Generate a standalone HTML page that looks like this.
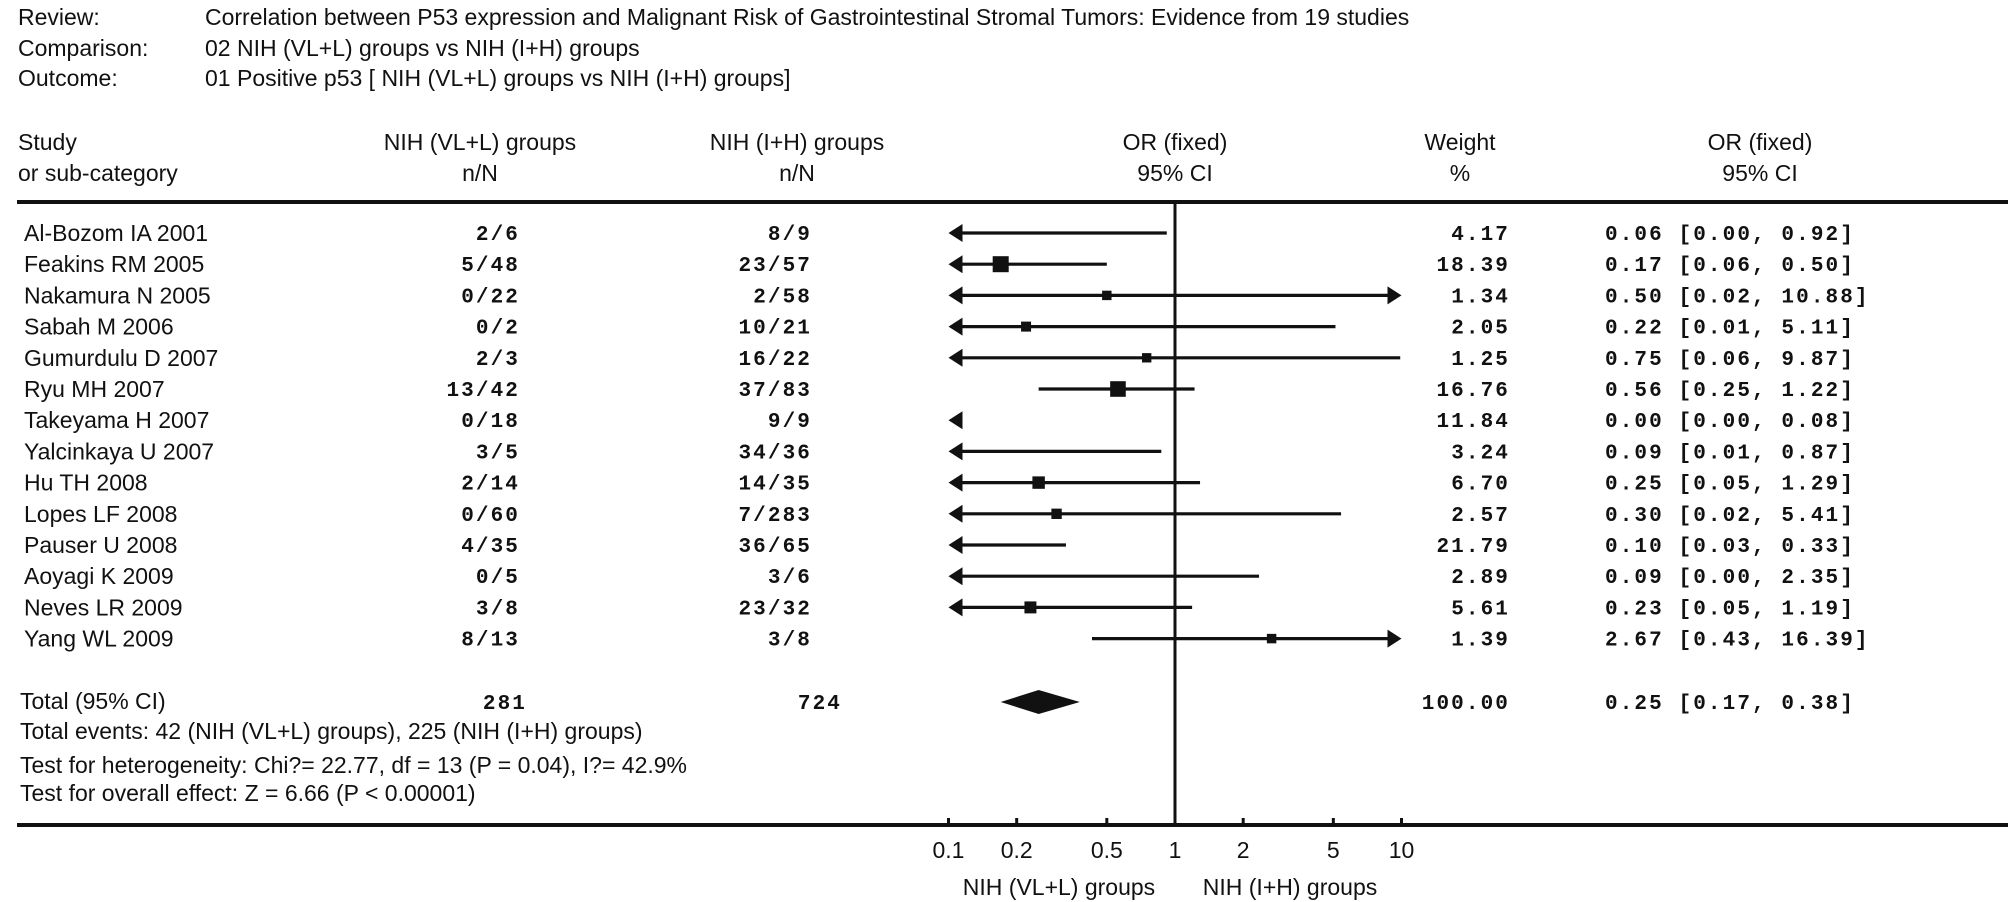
<!DOCTYPE html>
<html><head><meta charset="utf-8">
<style>
html,body{margin:0;padding:0;background:#fff;}
svg{display:block;}
.s{font-family:"Liberation Sans",Arial,sans-serif;font-size:23px;fill:#111;}
.m{font-family:"Liberation Mono","Courier New",monospace;font-size:21px;letter-spacing:2.1px;fill:#111;font-weight:bold;}
</style></head>
<body>
<svg id="c" width="2008" height="902" viewBox="0 0 2008 902" xmlns="http://www.w3.org/2000/svg">
<g>
<text class="s" x="18" y="25">Review:</text>
<text class="s" x="205" y="25">Correlation between P53 expression and Malignant Risk of Gastrointestinal Stromal Tumors: Evidence from 19 studies</text>
<text class="s" x="18" y="56">Comparison:</text>
<text class="s" x="205" y="56">02 NIH (VL+L)  groups vs NIH (I+H)  groups</text>
<text class="s" x="18" y="86">Outcome:</text>
<text class="s" x="205" y="86">01 Positive p53 [ NIH (VL+L) groups vs NIH (I+H)  groups]</text>
</g>
<g>
<text class="s" x="18" y="150">Study</text>
<text class="s" x="18" y="181">or sub-category</text>
<text class="s" x="480" y="150" text-anchor="middle">NIH (VL+L) groups</text>
<text class="s" x="480" y="181" text-anchor="middle">n/N</text>
<text class="s" x="797" y="150" text-anchor="middle">NIH (I+H)  groups</text>
<text class="s" x="797" y="181" text-anchor="middle">n/N</text>
<text class="s" x="1175" y="150" text-anchor="middle">OR (fixed)</text>
<text class="s" x="1175" y="181" text-anchor="middle">95% CI</text>
<text class="s" x="1460" y="150" text-anchor="middle">Weight</text>
<text class="s" x="1460" y="181" text-anchor="middle">%</text>
<text class="s" x="1760" y="150" text-anchor="middle">OR (fixed)</text>
<text class="s" x="1760" y="181" text-anchor="middle">95% CI</text>
</g>
<rect x="17" y="200" width="1991" height="4" fill="#111"/>
<rect x="17" y="823" width="1991" height="4" fill="#111"/>
<rect x="1173.5" y="202" width="3" height="623" fill="#111"/>
<g id="rows"></g>
<g id="axis"></g>
<g>
<text class="s" x="20" y="709">Total (95% CI)</text>
<text class="s" x="20" y="739">Total events: 42 (NIH (VL+L) groups), 225 (NIH (I+H)  groups)</text>
<text class="s" x="20" y="773">Test for heterogeneity: Chi?= 22.77, df = 13 (P = 0.04), I?= 42.9%</text>
<text class="s" x="20" y="801">Test for overall effect: Z = 6.66 (P &lt; 0.00001)</text>
</g>
<text class="s" x="1059" y="895" text-anchor="middle">NIH (VL+L) groups</text>
<text class="s" x="1290" y="895" text-anchor="middle">NIH (I+H)  groups</text>
</svg>
<script>
const studies = ["Al-Bozom IA 2001","Feakins RM 2005","Nakamura N 2005","Sabah M 2006","Gumurdulu D 2007","Ryu MH 2007","Takeyama H 2007","Yalcinkaya U 2007","Hu TH 2008","Lopes LF 2008","Pauser U 2008","Aoyagi K 2009","Neves LR 2009","Yang WL 2009"];
const group1 = ["2/6","5/48","0/22","0/2","2/3","13/42","0/18","3/5","2/14","0/60","4/35","0/5","3/8","8/13"];
const group2 = ["8/9","23/57","2/58","10/21","16/22","37/83","9/9","34/36","14/35","7/283","36/65","3/6","23/32","3/8"];
const orValues = [0.06,0.17,0.50,0.22,0.75,0.56,0.00,0.09,0.25,0.30,0.10,0.09,0.23,2.67];
const ciLow = [0.00,0.06,0.02,0.01,0.06,0.25,0.00,0.01,0.05,0.02,0.03,0.00,0.05,0.43];
const ciHigh = [0.92,0.50,10.88,5.11,9.87,1.22,0.08,0.87,1.29,5.41,0.33,2.35,1.19,16.39];
const weights = [4.17,18.39,1.34,2.05,1.25,16.76,11.84,3.24,6.70,2.57,21.79,2.89,5.61,1.39];
const totalOR = 0.25, totalLow = 0.17, totalHigh = 0.38;
const totalG1 = "281", totalG2 = "724", totalWeight = "100.00";
const tickValues = [0.1,0.2,0.5,1,2,5,10];
const tickLabels = ["0.1","0.2","0.5","1","2","5","10"];

const NS = "http://www.w3.org/2000/svg";
const xMin = 0.1, xMax = 10;
function xScale(v){ return 1175 + 226.5*Math.log10(v); }
function yRow(i){ return 233 + i*31.2; }
function mk(tag, attrs, parent){
  const e = document.createElementNS(NS, tag);
  for (const k in attrs) e.setAttribute(k, attrs[k]);
  parent.appendChild(e);
  return e;
}
function txt(parent, cls, x, y, s, anchor){
  const t = mk("text", {class: cls, x: x, y: y, "text-anchor": anchor || "start"}, parent);
  t.textContent = s;
  return t;
}
const f2 = v => v.toFixed(2);
const rowsG = document.getElementById("rows");

studies.forEach((name, i) => {
  const y = yRow(i);
  const g = mk("g", {}, rowsG);
  
  
  txt(g, "s", 24, y + 8, name);
  txt(g, "m", 520, y + 7, group1[i], "end");
  txt(g, "m", 812, y + 7, group2[i], "end");
  txt(g, "m", 1510, y + 7, f2(weights[i]), "end");
  txt(g, "m", 1605, y + 7, f2(orValues[i]) + " [" + f2(ciLow[i]) + ", " + f2(ciHigh[i]) + "]");
  const lo = Math.max(ciLow[i], xMin), hi = Math.min(ciHigh[i], xMax);
  const leftClip = ciLow[i] < xMin, rightClip = ciHigh[i] > xMax;
  const x1 = xScale(lo) + (leftClip ? 6 : 0);
  const x2 = ciHigh[i] < xMin ? xScale(xMin) + 6 : xScale(hi) - (rightClip ? 6 : 0);
  if (x2 > x1) {
    const ln = mk("line", {x1: x1, x2: x2, y1: y, y2: y, stroke: "#111", "stroke-width": 3.2}, g);
    
    
  }
  if (leftClip) {
    const ax = xScale(xMin);
    const a = mk("polygon", {points: ax + "," + y + " " + (ax + 14) + "," + (y - 9) + " " + (ax + 14) + "," + (y + 9), fill: "#111"}, g);
    
    
  }
  if (rightClip) {
    const ax = xScale(xMax);
    const a = mk("polygon", {points: ax + "," + y + " " + (ax - 14) + "," + (y - 9) + " " + (ax - 14) + "," + (y + 9), fill: "#111"}, g);
    
    
  }
  if (orValues[i] > xMin && orValues[i] < xMax) {
    const s = 7 + 2.1*Math.sqrt(weights[i]);
    const cx = xScale(orValues[i]);
    const r = mk("rect", {x: cx - s/2, y: y - s/2, width: s, height: s, fill: "#111"}, g);
    
    
  }
});

const ty = 702;
const tg = mk("g", {}, rowsG);


txt(tg, "m", 527, ty + 7, totalG1, "end");
txt(tg, "m", 842, ty + 7, totalG2, "end");
txt(tg, "m", 1510, ty + 7, totalWeight, "end");
txt(tg, "m", 1605, ty + 7, f2(totalOR) + " [" + f2(totalLow) + ", " + f2(totalHigh) + "]");
const dl = xScale(totalLow), dr = xScale(totalHigh), dc = xScale(totalOR);
const dm = mk("polygon", {points: dl + "," + ty + " " + dc + "," + (ty - 12) + " " + dr + "," + ty + " " + dc + "," + (ty + 12), fill: "#111"}, tg);



const axG = document.getElementById("axis");


tickValues.forEach((v, i) => {
  const x = xScale(v);
  const t = mk("line", {x1: x, x2: x, y1: 818, y2: 827, stroke: "#111", "stroke-width": 3}, axG);
  
  
  const l = txt(axG, "s", x, 858, tickLabels[i], "middle");
  
  
});
</script>
</body></html>
